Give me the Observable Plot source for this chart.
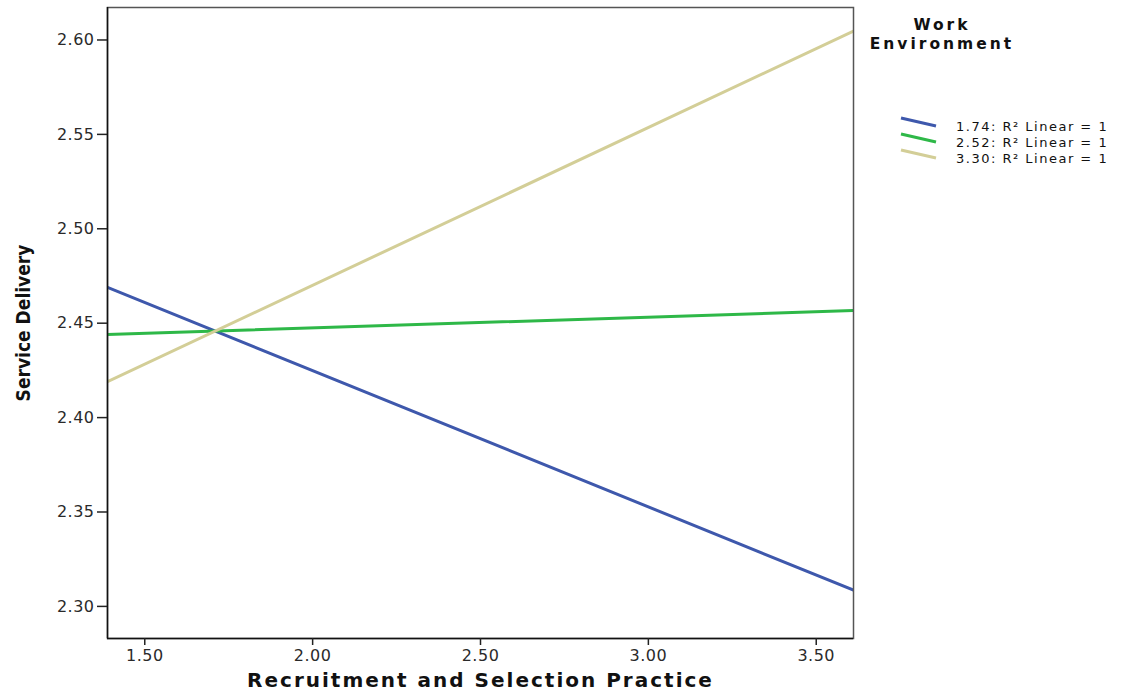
<!DOCTYPE html>
<html>
<head>
<meta charset="utf-8">
<script src="https://cdn.jsdelivr.net/npm/d3@7"></script>
<script src="https://cdn.jsdelivr.net/npm/@observablehq/plot@0.6"></script>
<style>
  html, body { margin: 0; padding: 0; background: #fff; }
  #chart { width: 1123px; height: 698px; }
</style>
</head>
<body>
<div id="chart"></div>
<script>
// Data
const groups = ["1.74", "2.52", "3.30"];
const groupLabels = ["1.74: R\u00B2 Linear = 1", "2.52: R\u00B2 Linear = 1", "3.30: R\u00B2 Linear = 1"];
const colors = ["#3e58ac", "#2eb848", "#d3ce97"];
const xStart = 1.389;
const xEnd = 3.611;
const yAtStart = [2.469, 2.444, 2.419];
const yAtEnd = [2.3086, 2.4567, 2.6047];
const xTicks = [1.5, 2.0, 2.5, 3.0, 3.5];
const yTicks = [2.30, 2.35, 2.40, 2.45, 2.50, 2.55, 2.60];
const xLabel = "Recruitment and Selection Practice";
const yLabel = "Service Delivery";
const legendTitle = ["Work", "Environment"];

const rows = [];
groups.forEach((g, i) => {
  rows.push({g, x: xStart, y: yAtStart[i]});
  rows.push({g, x: xEnd, y: yAtEnd[i]});
});

const W = 1123, H = 698;
const mL = 107, mR = 270, mT = 7, mB = 60;

const plot = Plot.plot({
  width: W,
  height: H,
  marginLeft: mL,
  marginRight: mR,
  marginTop: mT,
  marginBottom: mB,
  style: {fontFamily: "DejaVu Sans", fontSize: "16px", color: "#222", background: "#fff"},
  x: {domain: [xStart, xEnd], ticks: xTicks, tickFormat: d3.format(".2f")},
  y: {domain: [2.283, 2.6172], ticks: yTicks, tickFormat: d3.format(".2f")},
  color: {domain: groups, range: colors},
  marks: [
    Plot.line(rows, {x: "x", y: "y", z: "g", stroke: "g", strokeWidth: 3, clip: true}),
    Plot.frame({stroke: "#555", strokeWidth: 1.5}),
    Plot.ruleX([xStart], {stroke: "#111", strokeWidth: 1.5}),
    Plot.ruleY([2.283], {stroke: "#111", strokeWidth: 1.5}),
    Plot.axisX({ticks: xTicks, tickFormat: d3.format(".2f"), tickSize: 7, tickPadding: 4, label: null, strokeWidth: 1.5, fill: "#2a2a2a", fontSize: 16}),
    Plot.axisY({ticks: yTicks, tickFormat: d3.format(".2f"), tickSize: 10, tickPadding: 3, label: null, strokeWidth: 1.5, fill: "#2a2a2a", fontSize: 16}),
    Plot.text([xLabel], {frameAnchor: "bottom", dy: 48, fontWeight: "bold", fontSize: 20, fontFamily: "DejaVu Sans", fill: "#111"}),
    Plot.text([yLabel], {frameAnchor: "left", dx: -84, rotate: -90, textAnchor: "middle", fontWeight: "bold", fontSize: 19, fontFamily: "DejaVu Sans Condensed, DejaVu Sans", fill: "#111"})
  ]
});

document.getElementById("chart").appendChild(plot);

const svg = d3.select(plot);
// letter spacing tweaks to match the wide original rendering
svg.selectAll('[aria-label="x-axis tick label"] text, [aria-label="y-axis tick label"] text').attr("letter-spacing", "0.5px");
svg.selectAll("text").filter(function() { return this.textContent === xLabel; }).attr("letter-spacing", "2px");

// Legend drawn into the same SVG
const lg = svg.append("g").attr("font-family", "DejaVu Sans").attr("fill", "#111");
lg.append("text").attr("x", 942).attr("y", 30).attr("text-anchor", "middle")
  .attr("font-weight", "bold").attr("font-size", 15.5).attr("letter-spacing", "3px").text(legendTitle[0]);
lg.append("text").attr("x", 942).attr("y", 49).attr("text-anchor", "middle")
  .attr("font-weight", "bold").attr("font-size", 15.5).attr("letter-spacing", "3px").text(legendTitle[1]);
groups.forEach((g, i) => {
  const yy = 122 + i * 16;
  lg.append("line").attr("x1", 901).attr("y1", yy - 4).attr("x2", 936).attr("y2", yy + 4)
    .attr("stroke", colors[i]).attr("stroke-width", 3);
  lg.append("text").attr("x", 956).attr("y", yy + 9).attr("text-anchor", "start")
    .attr("font-size", 13).attr("letter-spacing", "1.5px").text(groupLabels[i]);
});
</script>
</body>
</html>
